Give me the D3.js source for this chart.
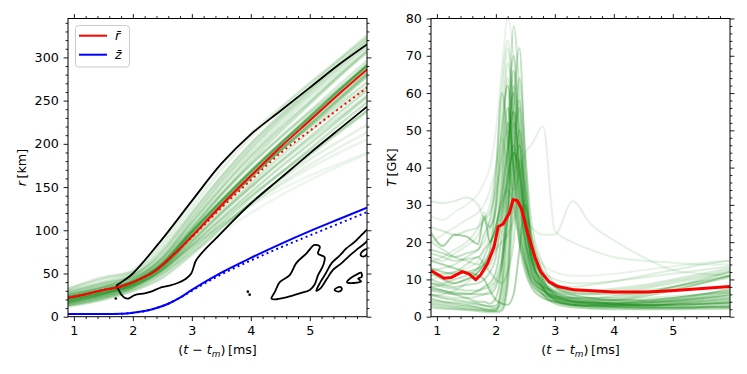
<!DOCTYPE html>
<html>
<head>
<meta charset="utf-8">
<script src="https://cdn.jsdelivr.net/npm/d3@7"></script>
<style>
  body { margin: 0; background: #fff; }
  svg text { font-family: "DejaVu Sans", sans-serif; fill: #000; }
</style>
</head>
<body>
<svg id="chart" width="747" height="374"></svg>
<script>
"use strict";

// ---- left panel: radius of tracers ----
var tLeft = [0.9, 1.5, 2.0, 2.5, 3.0, 3.5, 4.0, 4.5, 5.0, 5.5, 5.97];
var rTracers = [
  [14, 22, 32, 50, 78, 108, 138, 166, 194, 222, 248],
  [18, 27, 39, 62, 102, 142, 180, 214, 246, 278, 306],
  [24, 34, 47, 74, 116, 158, 196, 230, 262, 292, 320],
  [29, 40, 52, 82, 126, 170, 208, 240, 270, 298, 326],
  [20, 29, 39, 59, 94, 129, 162, 194, 224, 254, 282],
  [16, 25, 35, 53, 83, 114, 144, 173, 200, 228, 254],
  [22, 31, 41, 62, 99, 135, 169, 201, 232, 263, 292],
  [26, 35, 44, 68, 108, 148, 185, 218, 249, 280, 308],
  [12, 20, 30, 45, 72, 102, 132, 160, 187, 213, 238],
  [31, 44, 54, 86, 132, 176, 212, 242, 270, 298, 324],
  [20, 30, 41, 63, 98, 132, 163, 192, 219, 246, 271],
  [15, 23, 34, 54, 86, 119, 150, 180, 208, 236, 262],
  [24, 34, 44, 66, 104, 142, 176, 207, 236, 264, 290],
  [18, 27, 36, 54, 82, 112, 140, 166, 191, 215, 238],
  [21, 28, 37, 57, 93, 128, 161, 192, 221, 250, 278],
  [32, 46, 52, 78, 120, 162, 200, 232, 262, 292, 318],
  [13, 20, 30, 47, 74, 104, 132, 158, 182, 203, 222],
  [17, 24, 33, 49, 76, 104, 130, 154, 176, 196, 213],
  [25, 33, 40, 55, 80, 106, 130, 152, 172, 190, 205],
  [19, 27, 36, 51, 74, 98, 120, 140, 158, 174, 188],
  [28, 38, 45, 59, 82, 106, 128, 147, 163, 177, 190],
  [23, 31, 40, 61, 98, 134, 168, 200, 231, 262, 290],
  [19, 27, 38, 60, 97, 133, 167, 199, 230, 261, 290],
  [27, 37, 48, 76, 120, 162, 200, 234, 266, 296, 322],
  [16, 25, 37, 58, 92, 127, 160, 192, 222, 252, 280],
  [30, 40, 48, 70, 110, 150, 188, 222, 254, 284, 312],
  [21, 30, 42, 68, 112, 154, 192, 226, 258, 288, 316],
  [17, 26, 36, 55, 88, 122, 154, 185, 214, 242, 266],
  [25, 33, 41, 58, 88, 120, 150, 178, 205, 231, 256],
  [13, 22, 34, 56, 92, 130, 166, 198, 228, 258, 284],
  [33, 44, 50, 72, 114, 156, 194, 228, 258, 288, 314],
  [28, 38, 46, 66, 102, 140, 176, 208, 238, 268, 296]
];
var rWeights = [.45, .4, .3, .15, .6, .5, .7, .5, .35, .15, .4, .45, .35, .35, .5, .2,
                .15, .12, .08, .05, .04, .8, .6, .25, .5, .25, .2, .35, .3, .3, .1, .3];

var tMean = [0.9, 1.2, 1.5, 1.8, 2.0, 2.2, 2.4, 2.6, 2.8, 3.0, 3.5, 4.0, 4.5, 5.0, 5.5, 5.97];
var rMean    = [22, 26, 31, 35, 40, 46, 54, 66, 79, 93, 129, 163, 196, 227, 258, 286];
var rMeanAlt = [22, 26, 31, 35, 40, 46, 54, 66, 79, 92, 126, 158, 189, 215, 241, 265];
var zMean    = [3, 3, 3, 3.3, 4.5, 6.5, 10, 15, 22, 31, 51, 68, 84, 99, 113, 126];
var zMeanAlt = [3, 3, 3, 3.3, 4.5, 6.5, 10, 15, 22, 30, 49, 65, 80, 94, 108, 121];

// density contours [t, r]
var contourUpper = [[1.72, 36], [1.85, 42], [2.0, 50], [2.5, 90], [3.0, 134], [3.5, 177],
  [4.0, 211], [4.5, 238], [5.0, 265], [5.5, 292], [5.97, 315]];
var contourLower = [[1.72, 36], [1.76, 31], [1.8, 26], [1.86, 22], [1.92, 21], [2.03, 25],
  [2.2, 27], [2.31, 29], [2.48, 34], [2.62, 36], [2.76, 39], [2.9, 44], [2.99, 50], [3.07, 65],
  [3.2, 76], [3.4, 90], [3.6, 104], [4.0, 131], [4.5, 160], [5.0, 189], [5.5, 217], [5.97, 243]];
var blobs = [
  [[4.35, 21], [4.41, 29], [4.49, 40], [4.66, 48], [4.77, 62], [4.94, 73], [5.08, 83], [5.17, 81],
   [5.14, 73], [5.25, 69], [5.23, 60], [5.14, 48], [5.08, 37], [5.0, 31], [4.83, 27], [4.6, 22.4], [4.41, 20]],
  [[5.11, 30], [5.18, 40], [5.27, 50], [5.37, 62], [5.51, 71], [5.62, 79], [5.76, 86.5], [5.9, 96], [5.98, 101],
   [5.98, 88.5], [5.82, 79], [5.68, 71], [5.54, 62], [5.39, 54], [5.31, 46], [5.24, 38.5], [5.18, 32.7]],
  [[5.86, 72], [5.9, 76], [5.96, 78], [5.98, 74], [5.93, 70], [5.88, 70]],
  [[5.63, 40], [5.7, 45], [5.8, 49], [5.87, 51], [5.88, 46], [5.82, 44], [5.87, 41], [5.75, 39]],
  [[5.42, 31], [5.46, 33.5], [5.53, 34], [5.54, 31], [5.48, 29]]
];
var contourDots = [[1.71, 21], [3.95, 29], [3.98, 25.5]];

// ---- right panel: temperature of tracers ----
var tRight = [0.9, 1.1, 1.3, 1.5, 1.7, 1.8, 1.9, 2.0, 2.1, 2.2, 2.3, 2.4, 2.5, 2.6, 2.8, 3.0, 3.3, 3.6, 4.0, 4.5, 5.0, 5.5, 5.97];
var TTracers = [
  [22.5, 19, 22, 21.5, 19.5, 27, 20, 24, 32, 45, 55, 40, 25, 16, 9, 6, 4.5, 4, 3.5, 3.2, 3.5, 4, 4.5],
  [12, 10, 9, 10, 12, 14, 18, 30, 50, 62, 38, 20, 12, 8, 5, 4, 3.2, 3, 3, 3, 3.2, 3.5, 3.8],
  [8, 7, 6, 5, 4, 4, 3.5, 5, 14, 38, 66, 48, 26, 16, 9, 6.5, 5, 4.5, 4.5, 5.5, 7, 9, 11],
  [5, 4, 3.5, 3, 2.5, 2, 1.8, 2, 6, 24, 56, 72, 40, 20, 10, 7, 5.5, 5, 5, 6, 8, 10, 12],
  [15, 14, 13, 12, 11, 10, 7, 4.5, 3.5, 3.2, 6, 18, 30, 22, 12, 8, 6, 5, 4.5, 4.5, 5, 6, 7],
  [3, 2.5, 2.2, 2, 1.8, 1.6, 1.5, 1.5, 10, 40, 78, 60, 30, 16, 8, 5, 3.5, 3, 2.8, 2.6, 2.6, 2.8, 3],
  [18, 17, 16, 17, 18, 22, 26, 38, 60, 48, 30, 20, 14, 10, 7, 5.5, 4.5, 4, 3.8, 3.8, 4, 4.5, 5],
  [31, 30.5, 31, 32, 30, 26, 24, 35, 55, 72, 50, 30, 18, 12, 8, 6, 5, 4.5, 4.5, 5, 5.5, 6, 6.5],
  [20, 22, 24, 26, 28, 30, 34, 40, 48, 40, 34, 38, 44, 46, 51, 23, 20, 18, 16, 15, 14.5, 14, 14],
  [10, 11, 12, 13, 15, 18, 22, 30, 42, 50, 40, 30, 26, 24, 22, 22, 31, 25, 20.5, 16, 12.5, 11.5, 11],
  [7, 6.5, 6, 6, 7, 8, 9, 12, 22, 44, 60, 36, 18, 10, 6, 4, 3, 2.8, 2.6, 2.5, 2.5, 2.6, 2.8],
  [10, 9, 10, 11, 13, 16, 20, 24, 34, 52, 42, 24, 14, 9, 6, 5, 4, 3.8, 3.8, 4.2, 5, 6, 7.5],
  [4, 3.5, 3, 2.8, 2.5, 2.2, 2, 2, 3, 12, 40, 64, 44, 22, 10, 6, 4, 3.5, 3.2, 3, 3, 3.2, 3.5],
  [24, 23, 22, 23, 24, 26, 28, 34, 44, 68, 54, 30, 16, 11, 8, 6.5, 6, 6, 6.5, 7.5, 9, 10.5, 12],
  [2.5, 2.2, 2, 1.8, 1.5, 1.3, 1.2, 1.2, 1.5, 8, 30, 50, 36, 18, 8, 4.5, 3, 2.5, 2.4, 2.3, 2.3, 2.4, 2.5],
  [13, 12, 11.5, 12, 13, 14, 16, 22, 30, 36, 46, 34, 20, 12, 7, 5, 3.8, 3.5, 3.5, 3.8, 4.5, 5.5, 6.5],
  [6, 5.5, 5, 5, 5.5, 6, 7, 9, 14, 28, 48, 58, 42, 26, 14, 9, 7, 7, 7.5, 8.5, 10, 11.5, 13],
  [16, 15, 17, 19, 22, 26, 30, 40, 62, 74, 58, 34, 20, 14, 10, 8.5, 8, 8.5, 9.5, 11, 12.5, 14, 15],
  [9, 8, 7.5, 7, 7, 7.5, 8, 10, 16, 30, 52, 40, 22, 13, 7.5, 5, 4, 3.6, 3.4, 3.5, 4, 4.8, 5.8],
  [20, 18, 16, 15, 14, 15, 17, 21, 28, 38, 44, 40, 28, 18, 11, 8, 6.5, 6, 6, 6.5, 7.5, 9, 10.5],
  [5.5, 6, 7, 9, 12, 14, 16, 18, 20, 22, 26, 30, 24, 17, 11, 8, 7, 6.5, 6.5, 7, 8, 9.5, 11],
  [11, 11.5, 12, 14, 16, 14, 12, 10, 9, 12, 20, 42, 34, 20, 10, 6.5, 5, 4.5, 4.2, 4.2, 4.5, 5, 5.5],
  [27, 26, 28, 30, 33, 36, 40, 50, 66, 80, 70, 48, 30, 20, 14, 12, 11, 11, 11.5, 12.5, 13.5, 14.5, 15],
  [3.5, 3, 2.6, 2.3, 2, 1.8, 1.6, 1.5, 2, 10, 36, 46, 30, 16, 7.5, 4.5, 3.2, 2.8, 2.6, 2.5, 2.5, 2.6, 2.7],
  [15, 16, 18, 20, 24, 28, 24, 30, 44, 56, 46, 30, 20, 15, 12, 10, 9, 9, 9.5, 10.5, 11.5, 12.5, 13.5],
  [8, 8.5, 9, 10, 11, 12, 14, 18, 26, 34, 30, 22, 14, 9, 5.5, 4, 3.3, 3, 3, 3.2, 3.6, 4.2, 5],
  [6, 5, 4.5, 4, 3.5, 3, 2.8, 3, 8, 30, 62, 44, 22, 12, 6, 3.5, 2.5, 2.2, 2, 2, 2, 2.1, 2.2],
  [9, 8.5, 8, 8.5, 9, 10, 12, 16, 28, 50, 70, 52, 28, 14, 7, 4.5, 3.5, 3.2, 3, 3, 3.2, 3.5, 4],
  [17, 16, 15, 15.5, 16, 18, 20, 24, 36, 56, 40, 24, 15, 10, 7, 5.5, 5, 5, 5.5, 6.5, 8, 9.5, 11],
  [4.5, 4, 3.8, 3.5, 3.2, 3, 2.6, 2.4, 4, 16, 42, 56, 34, 18, 9, 5.5, 4, 3.4, 3.2, 3.1, 3.2, 3.4, 3.6],
  [12.5, 13, 14, 16, 18, 20, 24, 28, 40, 64, 50, 28, 16, 11, 8, 7, 6.5, 6.5, 7, 8, 9.5, 11, 12.5],
  [7.5, 7, 6.5, 6.2, 6, 6, 6.2, 8, 14, 26, 44, 38, 24, 14, 8, 5.5, 4.2, 3.8, 3.6, 3.8, 4.2, 5, 6]
];
var TWeights = [.8, .7, .6, .5, .7, .4, .5, .2, .15, .15, .6, .5, .4, .3, .5, .6, .3, .2, .45, .35, .25, .4, .1, .55, .2, .35,
                .6, .5, .4, .45, .3, .55];

var tTMean = [0.9, 1.12, 1.24, 1.43, 1.55, 1.66, 1.74, 1.86, 1.97, 2.04, 2.12, 2.23, 2.29, 2.36, 2.43,
              2.54, 2.66, 2.76, 2.9, 3.05, 3.33, 4.0, 4.58, 5.03, 5.97];
var TMean = [12.4, 10.3, 10.5, 12.1, 11.4, 9.9, 11.2, 14.3, 18.8, 24.2, 24.8, 27.8, 31.4, 31.2, 29.1,
             22.4, 16.1, 12.1, 9.4, 8.1, 7.2, 6.6, 6.6, 7.0, 8.1];

var xTicks = [1, 2, 3, 4, 5];
var rTicks = [0, 50, 100, 150, 200, 250, 300];
var TTicks = [0, 10, 20, 30, 40, 50, 60, 70, 80];

// ---------------------------------------------------------------
var svg = d3.select("#chart"),
  fontSize = 12.7,
  plotTop = 18.5, plotBottom = 316.7,
  alpha = d3.scaleLinear().domain([0, 1]).range([0.05, 0.42]);

function zip(ts, vs) { return ts.map(function(t, i) { return [t, vs[i]]; }); }

function panel(opt) {
  var x = d3.scaleLinear().domain([0.9, 5.97]).range([opt.left, opt.right]),
    y = d3.scaleLinear().domain(opt.yDomain).range([plotBottom, plotTop]),
    g = svg.append("g");

  svg.append("clipPath").attr("id", opt.id)
    .append("rect").attr("x", opt.left).attr("y", plotTop)
    .attr("width", opt.right - opt.left).attr("height", plotBottom - plotTop);

  var plot = g.append("g").attr("clip-path", "url(#" + opt.id + ")");

  function axis(gen, transform, values, size, labels) {
    var a = g.append("g").attr("transform", transform)
      .call(gen.tickValues(values).tickSize(size).tickSizeOuter(0).tickPadding(4.8)
        .tickFormat(labels ? d3.format("d") : ""));
    a.select(".domain").remove();
    a.selectAll("line").attr("stroke", "#000").attr("stroke-width", 0.9);
    a.selectAll("text").attr("font-size", fontSize).attr("font-family", "DejaVu Sans");
  }
  var minorX = d3.range(1, 5.97, 0.2).filter(function(v) { return Math.abs(v - Math.round(v)) > 1e-6; });
  var minorY = d3.range(opt.yDomain[0], opt.yDomain[1] + 0.001, opt.minorStep)
    .filter(function(v) { return opt.ticks.indexOf(Math.round(v * 1000) / 1000) < 0; });

  axis(d3.axisBottom(x), "translate(0," + plotBottom + ")", xTicks, 4.4, true);
  axis(d3.axisTop(x), "translate(0," + plotTop + ")", xTicks, 4.4, false);
  axis(d3.axisBottom(x), "translate(0," + plotBottom + ")", minorX, 2.4, false);
  axis(d3.axisTop(x), "translate(0," + plotTop + ")", minorX, 2.4, false);
  axis(d3.axisLeft(y), "translate(" + opt.left + ",0)", opt.ticks, 4.4, true);
  axis(d3.axisRight(y), "translate(" + opt.right + ",0)", opt.ticks, 4.4, false);
  axis(d3.axisLeft(y), "translate(" + opt.left + ",0)", minorY, 2.4, false);
  axis(d3.axisRight(y), "translate(" + opt.right + ",0)", minorY, 2.4, false);

  g.append("rect").attr("x", opt.left).attr("y", plotTop)
    .attr("width", opt.right - opt.left).attr("height", plotBottom - plotTop)
    .attr("fill", "none").attr("stroke", "#000").attr("stroke-width", 1);

  // x label
  var xl = g.append("text").attr("x", (opt.left + opt.right) / 2).attr("y", 354)
    .attr("text-anchor", "middle").attr("font-size", fontSize);
  xl.append("tspan").text("(");
  xl.append("tspan").attr("font-style", "italic").text("t");
  xl.append("tspan").text(" \u2212 ");
  xl.append("tspan").attr("font-style", "italic").text("t");
  xl.append("tspan").attr("font-style", "italic").attr("font-size", fontSize * 0.7).attr("dy", 3).text("m");
  xl.append("tspan").attr("dy", -3).text(")\u2009[ms]");

  // y label
  var yl = g.append("text")
    .attr("transform", "translate(" + opt.yLabelX + "," + ((plotTop + plotBottom) / 2) + ") rotate(-90)")
    .attr("text-anchor", "middle").attr("font-size", fontSize);
  yl.append("tspan").attr("font-style", "italic").text(opt.yVar);
  yl.append("tspan").text("\u2009[" + opt.yUnit + "]");

  return { x: x, y: y, plot: plot };
}

// ---- left panel ----
var L = panel({ id: "clipL", left: 68, right: 367, yDomain: [0, 345], ticks: rTicks, minorStep: 10,
  yLabelX: 26, yVar: "r", yUnit: "km" });

function lineL(curve) {
  return d3.line().x(function(d) { return L.x(d[0]); }).y(function(d) { return L.y(d[1]); }).curve(curve);
}
var smoothL = lineL(d3.curveMonotoneX),
  contourL = lineL(d3.curveCatmullRom),
  blobL = lineL(d3.curveCatmullRomClosed);

L.plot.selectAll(".tracer").data(rTracers).enter().append("path")
  .attr("d", function(d) { return smoothL(zip(tLeft, d)); })
  .attr("fill", "none").attr("stroke", "green").attr("stroke-width", 2.6)
  .attr("stroke-opacity", function(d, i) { return alpha(rWeights[i]); });

[contourUpper, contourLower].forEach(function(c) {
  L.plot.append("path").attr("d", contourL(c))
    .attr("fill", "none").attr("stroke", "#000").attr("stroke-width", 1.8);
});
L.plot.selectAll(".blob").data(blobs).enter().append("path")
  .attr("d", function(d) { return blobL(d); })
  .attr("fill", "none").attr("stroke", "#000").attr("stroke-width", 1.8).attr("stroke-linejoin", "round");
L.plot.selectAll(".dot").data(contourDots).enter().append("circle")
  .attr("cx", function(d) { return L.x(d[0]); }).attr("cy", function(d) { return L.y(d[1]); })
  .attr("r", 1.3).attr("fill", "#000");

[[rMean, "red", null], [zMean, "blue", null], [rMeanAlt, "red", "2,3.3"], [zMeanAlt, "blue", "2,3.3"]]
  .forEach(function(s) {
    L.plot.append("path").attr("d", smoothL(zip(tMean, s[0])))
      .attr("fill", "none").attr("stroke", s[1]).attr("stroke-width", 2)
      .attr("stroke-dasharray", s[2]);
  });

// legend
var leg = svg.append("g");
leg.append("rect").attr("x", 75.5).attr("y", 25.5).attr("width", 54).attr("height", 41.5).attr("rx", 3)
  .attr("fill", "#fff").attr("fill-opacity", 0.8).attr("stroke", "#ccc").attr("stroke-width", 1);
[["r", "red", 35.7], ["z", "blue", 54.7]].forEach(function(s) {
  leg.append("line").attr("x1", 79).attr("x2", 107).attr("y1", s[2]).attr("y2", s[2])
    .attr("stroke", s[1]).attr("stroke-width", 2);
  leg.append("text").attr("x", 115).attr("y", s[2] + 4.5).attr("font-size", fontSize)
    .attr("font-style", "italic").text(s[0] + "\u0304");
});

// ---- right panel ----
var R = panel({ id: "clipR", left: 431, right: 730, yDomain: [0, 80], ticks: TTicks, minorStep: 2,
  yLabelX: 396, yVar: "T", yUnit: "GK" });

var smoothR = d3.line().x(function(d) { return R.x(d[0]); }).y(function(d) { return R.y(d[1]); })
  .curve(d3.curveMonotoneX);
var rawR = d3.line().x(function(d) { return R.x(d[0]); }).y(function(d) { return R.y(d[1]); });

R.plot.selectAll(".tracer").data(TTracers).enter().append("path")
  .attr("d", function(d) { return smoothR(zip(tRight, d)); })
  .attr("fill", "none").attr("stroke", "green").attr("stroke-width", 2)
  .attr("stroke-linejoin", "round")
  .attr("stroke-opacity", function(d, i) { return alpha(TWeights[i]); });

R.plot.append("path").attr("d", rawR(zip(tTMean, TMean)))
  .attr("fill", "none").attr("stroke", "red").attr("stroke-width", 3).attr("stroke-linejoin", "round");
</script>
</body>
</html>
